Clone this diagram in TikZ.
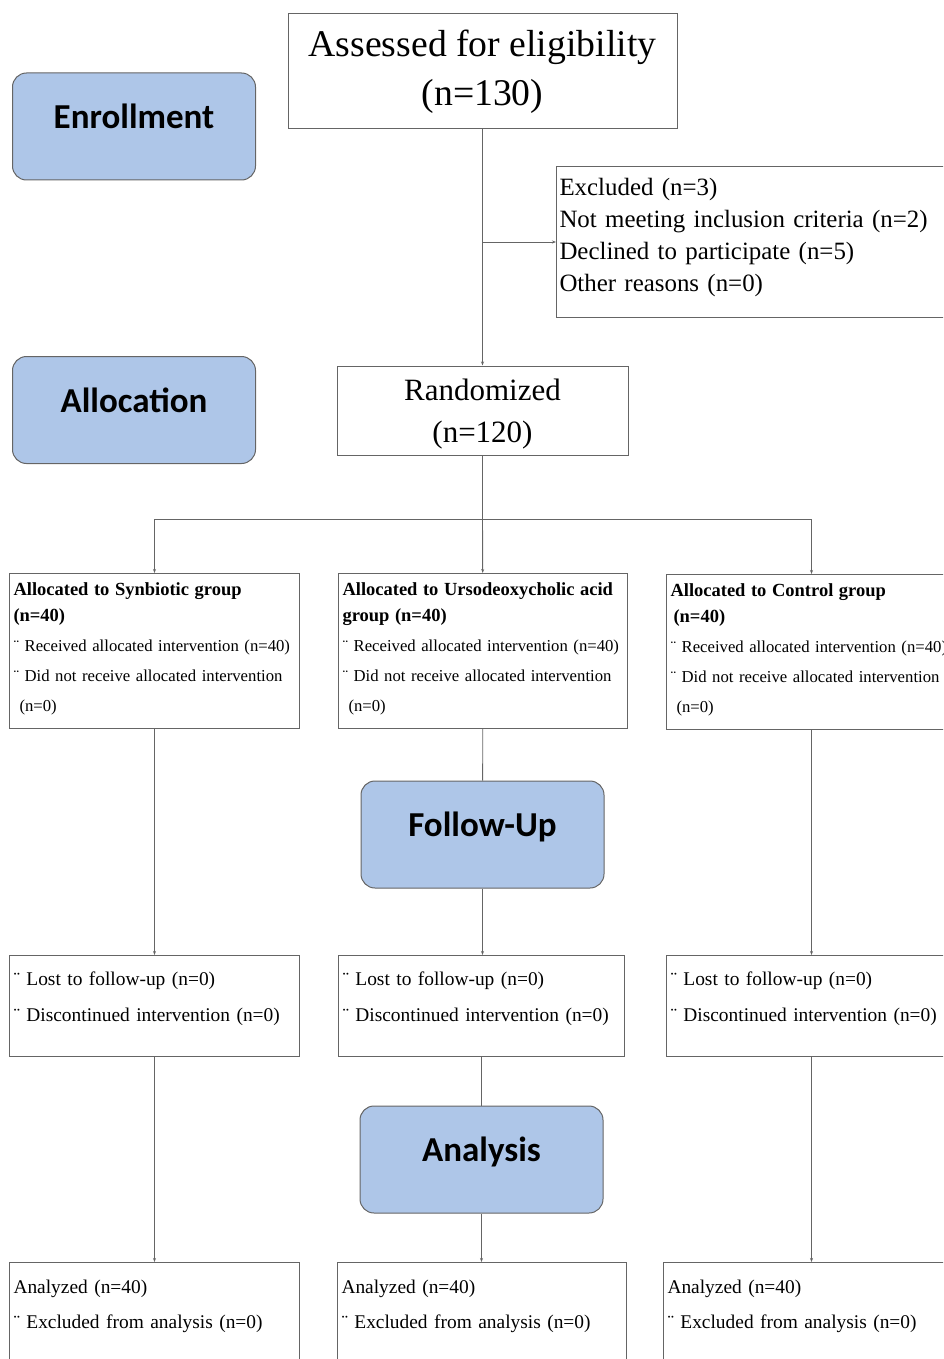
\documentclass[tikz,border=0pt]{standalone}
\usepackage{fontspec}
\setmainfont{Liberation Serif}
\newfontfamily\phasefont{Carlito}
\usetikzlibrary{arrows.meta}
\definecolor{phaseblue}{HTML}{AEC6E8}
\definecolor{edgegray}{HTML}{656565}
\newcommand\grphead[1]{{\fontsize{18.5}{30}\selectfont\bfseries #1}}

\begin{document}
\begin{tikzpicture}[x=1pt,y=-1pt,
    box/.style={draw=edgegray,line width=1pt,inner xsep=4pt,inner ysep=0pt,align=left,anchor=north west},
    grp/.style={box,text width=282pt,text height=22pt,text depth=133pt,font=\fontsize{16.7}{30}\selectfont},
    lost/.style={box,text width=282pt,text height=30pt,text depth=71pt,font=\fontsize{19.4}{36}\selectfont},
    ana/.style={box,text width=282pt,text height=31pt,text depth=100pt,font=\fontsize{19.4}{35}\selectfont},
    phase/.style={draw=edgegray,line width=1pt,fill=phaseblue,rounded corners=14pt,minimum width=243pt,minimum height=107pt,
      text height=24pt,text depth=20pt,font=\phasefont\fontsize{35}{40}\selectfont\bfseries},
    arr/.style={-{Stealth[length=4pt,width=3pt]},edgegray,line width=0.9pt}]
  \useasboundingbox (0,0) rectangle (943,1359);
  \clip (0,0) rectangle (943,1359);

  % enrollment
  \node[phase] (enrol) at (134,126.5) {Enrollment};
  \node[box,anchor=center,align=center,minimum width=389pt,minimum height=115pt,font=\fontsize{37.7}{49}\selectfont] (assess) at (482.5,71.5) {Assessed for eligibility\\(n=130)};
  \node[box,text width=400pt,text height=29pt,text depth=122pt,inner xsep=3pt,font=\fontsize{24.9}{32}\selectfont] (excl) at (556,166) {Excluded (n=3)\\Not meeting inclusion criteria (n=2)\\Declined to participate (n=5)\\Other reasons (n=0)};

  % allocation
  \node[phase] (alloc) at (134,410) {Allocation};
  \node[box,anchor=center,align=center,minimum width=291pt,minimum height=89pt,text height=71pt,text depth=6.7pt,font=\fontsize{31}{42}\selectfont] (rand) at (482.5,410.5) {Randomized\\(n=120)};
  \coordinate (split) at (482.5,519);
  \node[grp] (g1) at (9,573) {\grphead{Allocated to Synbiotic group}\\[-4pt]\grphead{(n=40)}\\¨ Received allocated intervention (n=40)\\¨ Did not receive allocated intervention\\\hspace{6pt}(n=0)};
  \node[grp,text width=281pt] (g2) at (338,573) {\grphead{Allocated to Ursodeoxycholic acid}\\[-4pt]\grphead{group (n=40)}\\¨ Received allocated intervention (n=40)\\¨ Did not receive allocated intervention\\\hspace{6pt}(n=0)};
  \node[grp] (g3) at (666,574) {\grphead{Allocated to Control group}\\[-4pt]\grphead{\hspace{3pt}(n=40)}\\¨ Received allocated intervention (n=40)\\¨ Did not receive allocated intervention\\\hspace{6pt}(n=0)};

  % follow-up
  \node[phase] (fu) at (482.5,834.5) {Follow-Up};
  \node[lost] (l1) at (9,955) {¨ Lost to follow-up (n=0)\\¨ Discontinued intervention (n=0)};
  \node[lost,text width=278pt] (l2) at (338,955) {¨ Lost to follow-up (n=0)\\¨ Discontinued intervention (n=0)};
  \node[lost] (l3) at (666,955) {¨ Lost to follow-up (n=0)\\¨ Discontinued intervention (n=0)};

  % analysis
  \node[phase] (an) at (481.5,1159.5) {Analysis};
  \node[ana] (n1) at (9,1262) {Analyzed (n=40)\\¨ Excluded from analysis (n=0)};
  \node[ana,text width=281pt] (n2) at (337,1262) {Analyzed (n=40)\\¨ Excluded from analysis (n=0)};
  \node[ana] (n3) at (663,1262) {Analyzed (n=40)\\¨ Excluded from analysis (n=0)};

  % connectors
  \draw[arr] (assess) -- (rand);
  \draw[arr] (assess.south |- excl.west) -- (excl);
  \draw[edgegray,line width=0.9pt] (rand) -- (split);
  \draw[arr] (split) -| (g1);
  \draw[arr] (split) -- (g2);
  \draw[arr] (split) -| (g3);
  \draw[arr] (g1) -- (l1);
  \draw[edgegray,line width=0.9pt] (g2) -- (fu);
  \draw[arr] (fu) -- (fu |- l2.north);
  \draw[arr] (g3) -- (l3);
  \draw[arr] (l1) -- (n1);
  \draw[edgegray,line width=0.9pt] (l2) -- (an);
  \draw[arr] (an) -- (an |- n2.north);
  \draw[arr] (l3) -- (l3 |- n3.north);
\end{tikzpicture}
\end{document}
